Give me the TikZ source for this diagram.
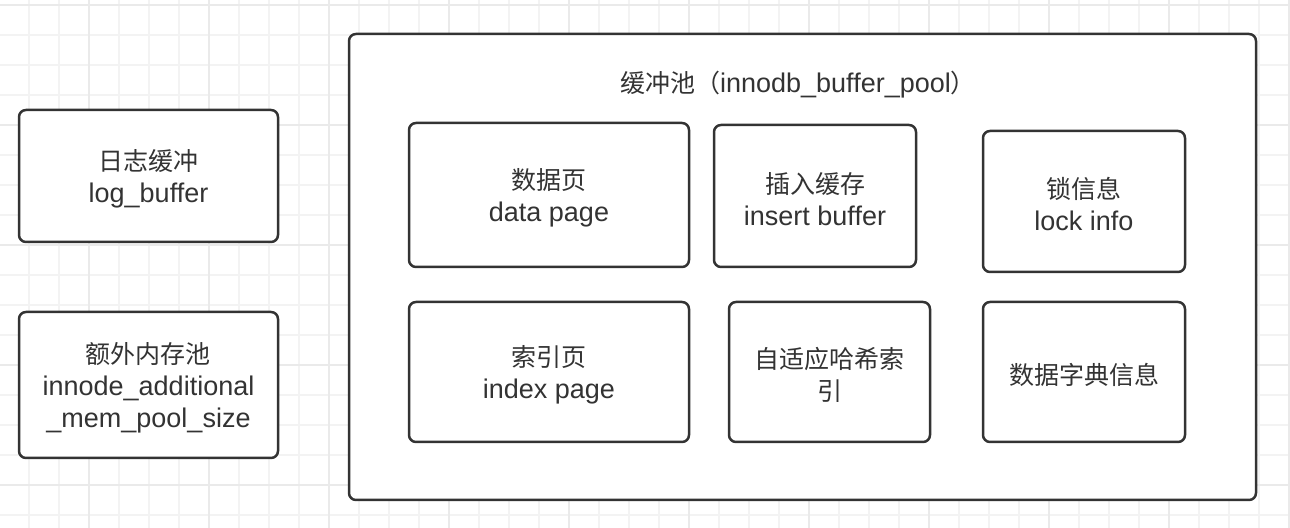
\documentclass[tikz,border=0pt]{standalone}
\usepackage{fontspec}
\setmainfont{Liberation Sans}
\newfontfamily\cjk{Noto Sans CJK SC}
\usepackage{tikz}
\usetikzlibrary{positioning, calc}

\definecolor{gridminor}{HTML}{F3F3F3}
\definecolor{gridmajor}{HTML}{EAEAEA}
\definecolor{boxline}{HTML}{333333}
\newcommand\zh[1]{{\cjk\fontsize{12.5}{16}\selectfont\rule{0pt}{13.5pt}#1}}

\tikzset{
	memblock/.style={draw=boxline, line width=1.25pt, rounded corners=3.5pt, fill=white,
		text=boxline, align=center, inner sep=0pt,
		font=\fontsize{13.5}{16}\selectfont},
}

\begin{document}
\begin{tikzpicture}[x=0.5pt, y=-0.5pt]
		\useasboundingbox (0,0) rectangle (1290,528);
		\fill[white] (0,0) rectangle (1290,528);
		% grid
		\foreach \x in {29,59,...,1289}
			\draw[gridminor, line width=0.6pt] (\x,0) -- (\x,528);
		\foreach \y in {5,35,...,515}
			\draw[gridminor, line width=0.6pt] (0,\y) -- (1290,\y);
		\foreach \x in {89,209,...,1289}
			\draw[gridmajor, line width=0.6pt] (\x,0) -- (\x,528);
		\foreach \y in {5,125,...,515}
			\draw[gridmajor, line width=0.6pt] (0,\y) -- (1290,\y);

		\node [memblock, minimum width=129.5pt, minimum height=66pt] (logbuf) at (148.5,176)
			{\zh{日志缓冲}\\log\_buffer};
		\node [memblock, minimum width=129.5pt, minimum height=73pt] (extramem) at (148.5,385)
			{\zh{额外内存池}\\innode\_additional\\\_mem\_pool\_size};

		\node [memblock, minimum width=453.5pt, minimum height=233pt] (pool) at (802.5,267) {};
		\node [text=boxline, font=\fontsize{13.5}{16}\selectfont] (pooltitle) at (798,82)
			{\zh{缓冲池（}innodb\_buffer\_pool\zh{）}};

		\node [memblock, minimum width=140pt, minimum height=72pt] (datapage) at (549,195)
			{\zh{数据页}\\data page};
		\node [memblock, minimum width=101pt, minimum height=71pt] (insbuf) at (815,196)
			{\zh{插入缓存}\\insert buffer};
		\node [memblock, minimum width=101pt, minimum height=70.5pt] (lockinfo) at (1084,201.5)
			{\zh{锁信息}\\lock info};

		\node [memblock, minimum width=140pt, minimum height=70pt] (idxpage) at (549,372)
			{\zh{索引页}\\index page};
		\node [memblock, minimum width=100.5pt, minimum height=70pt] (adaphash) at (829.5,372)
			{\zh{自适应哈希索}\\\zh{引}};
		\node [memblock, minimum width=101pt, minimum height=70pt] (dictinfo) at (1084,372)
			{\zh{数据字典信息}};
\end{tikzpicture}
\end{document}
